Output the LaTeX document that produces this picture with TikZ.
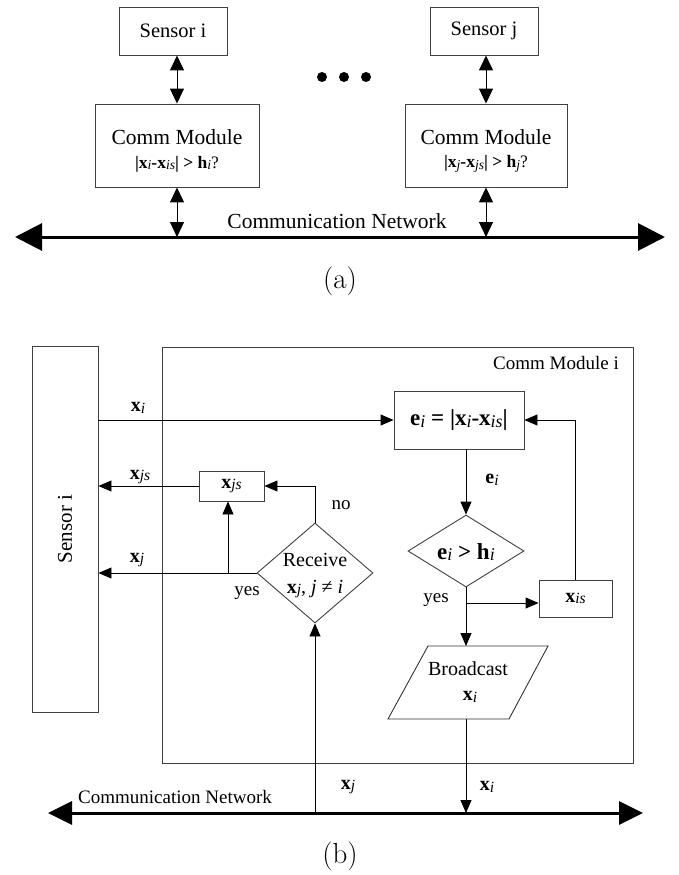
\documentclass[tikz,border=0pt]{standalone}
\usepackage{fontspec}
\newfontfamily\tnr{Liberation Serif}
\usetikzlibrary{arrows.meta,shapes.geometric}
\newcommand\bv[2]{\textbf{#1}\raisebox{-0.08em}{\scalebox{0.78}{\itshape\mdseries #2}}}
\begin{document}
\begin{tikzpicture}[x=1pt,y=-1pt,
  font=\tnr\fontsize{19}{21}\selectfont,
  box/.style={draw=black!75, line width=0.9pt, inner sep=0pt},
  arr/.style={-{Triangle[length=13pt,width=11pt]}, line width=0.9pt},
  darr/.style={{Triangle[length=15pt,width=14pt]}-{Triangle[length=15pt,width=14pt]}, line width=1pt},
  neta/.style={{Triangle[length=27pt,width=27pt]}-{Triangle[length=27pt,width=27pt]}, line width=3pt},
  netb/.style={{Triangle[length=24pt,width=23pt]}-{Triangle[length=24pt,width=23pt]}, line width=3pt},
  lbl/.style={inner sep=0pt},
  captxt/.style={font=\fontsize{29}{31}\selectfont, inner sep=0pt}]
\useasboundingbox (0,0) rectangle (679,875);

% ---------------- panel (a) ----------------
\node[box, minimum width=108pt, minimum height=48pt, font=\tnr\fontsize{20.5}{22}\selectfont] (sensI) at (173,31) {Sensor i};
\node[box, minimum width=108pt, minimum height=48pt, font=\tnr\fontsize{20.5}{22}\selectfont] (sensJ) at (484,31) {Sensor j};
\node[box, minimum width=164pt, minimum height=83pt] (commI) at (177,145.5) {};
\node[box, minimum width=162pt, minimum height=83pt] (commJ) at (486,145.5) {};
\node[lbl] (commIt) at (177,137) {\fontsize{21.5}{23}\selectfont Comm Module};
\node[lbl] (commIf) at (177,164) {\fontsize{17.5}{19}\selectfont\textbf{|}\bv{x}{i}\textbf{-}\bv{x}{is}\textbf{|} \textbf{>} \bv{h}{i}?};
\node[lbl] (commJt) at (486,137) {\fontsize{21.5}{23}\selectfont Comm Module};
\node[lbl] (commJf) at (486,164) {\fontsize{17.5}{19}\selectfont\textbf{|}\bv{x}{j}\textbf{-}\bv{x}{js}\textbf{|} \textbf{>} \bv{h}{j}?};
\fill (322,77) circle (5) (344,77) circle (5) (366,77) circle (5);
\coordinate (netAL) at (15,237);
\coordinate (netAR) at (665,237);
\draw[neta] (netAL) -- (netAR);
\node[lbl] (netAt) at (337,221) {\fontsize{21.5}{23}\selectfont Communication Network};
\draw[darr] (commI.north |- sensI.south) -- (commI.north);
\draw[darr] (commJ.north |- sensJ.south) -- (commJ.north);
\draw[darr] (commI.south) -- (commI.south |- netAL);
\draw[darr] (commJ.south) -- (commJ.south |- netAL);
\node[captxt] (capA) at (340,281) {(a)};

% ---------------- panel (b) ----------------
\node[box, minimum width=66pt, minimum height=366pt] (sensB) at (65,529) {};
\node[lbl, rotate=90] (sensBt) at (65,529) {\fontsize{21}{23}\selectfont Sensor i};
\node[box, minimum width=471pt, minimum height=416pt] (commB) at (397.5,555) {};
\node[lbl, anchor=east] (commBt) at (619,363) {Comm Module i};

\node[box, minimum width=130pt, minimum height=58pt] (ebox) at (459,420)
  {\fontsize{23}{25}\selectfont\bv{e}{i} \textbf{= |}\bv{x}{i}\textbf{-}\bv{x}{is}\textbf{|}};
\node[box, diamond, minimum width=116pt, minimum height=72pt] (d1) at (466,551) {};
\node[lbl] (d1t) at (466,552) {\fontsize{23}{25}\selectfont\bv{e}{i} \textbf{>} \bv{h}{i}};
\node[box, minimum width=73pt, minimum height=37pt] (xis) at (575.5,598.5) {\fontsize{20}{22}\selectfont\bv{x}{is}};

\coordinate (pTL) at (428,646);
\coordinate (pTR) at (548,646);
\coordinate (pBR) at (509,719);
\coordinate (pBL) at (388,719);
\draw[draw=black!80, line width=0.9pt] (pTL) -- (pTR) -- (pBR) -- (pBL) -- cycle;
\coordinate (pTop) at (466,646);
\coordinate (pBot) at (466,719);
\node[lbl] (bct) at (468,669) {\fontsize{20}{22}\selectfont Broadcast};
\node[lbl] (bcx) at (470,697) {\fontsize{20}{22}\selectfont\bv{x}{i}};

\node[box, diamond, minimum width=116pt, minimum height=100pt] (d2) at (315,573) {};
\node[lbl] (d2a) at (315,560) {\fontsize{20}{22}\selectfont Receive};
\node[lbl] (d2b) at (315,589) {\fontsize{20}{22}\selectfont\bv{x}{j}, \textit{j} ≠ \textit{i}};
\node[box, minimum width=65pt, minimum height=30pt] (xjs) at (231.5,486) {\fontsize{20}{22}\selectfont\bv{x}{js}};

\coordinate (netBL) at (48,813);
\coordinate (netBR) at (643,813);
\draw[netb] (netBL) -- (netBR);
\node[lbl, anchor=west] (netBt) at (78,797) {Communication Network};

% connectors
\draw[arr] (sensB.east |- ebox.west) -- (ebox.west);
\node[lbl] (lxi) at (138,408) {\fontsize{20}{22}\selectfont\bv{x}{i}};
\draw[arr] (d1.north |- ebox.south) -- (d1.north);
\node[lbl] (lei) at (492,480) {\fontsize{20}{22}\selectfont\bv{e}{i}};
\draw[arr] (d1.south) -- (pTop);
\coordinate (br1) at (466,603);
\draw[arr] (br1) -- (br1 -| xis.west);
\node[lbl] (lyes1) at (436,600) {yes};
\draw[arr] (xis.north) -- (xis.north |- ebox.east) -- (ebox.east);
\draw[arr] (pBot) -- (pBot |- netBL);
\node[lbl] (lxi2) at (487,787) {\fontsize{20}{22}\selectfont\bv{x}{i}};
\draw[arr] (d2.south |- netBL) -- (d2.south);
\node[lbl] (lxj2) at (348,787) {\fontsize{20}{22}\selectfont\bv{x}{j}};
\draw[arr] (d2.west) -- (d2.west -| sensB.east);
\node[lbl] (lxj) at (137,560) {\fontsize{20}{22}\selectfont\bv{x}{j}};
\coordinate (br2) at (228,573);
\draw[arr] (br2) -- (br2 |- xjs.south);
\node[lbl] (lyes2) at (247,593) {yes};
\draw[arr] (d2.north) -- (d2.north |- xjs.east) -- (xjs.east);
\node[lbl] (lno) at (341,505) {no};
\draw[arr] (xjs.west) -- (xjs.west -| sensB.east);
\node[lbl] (lxjs) at (140,477) {\fontsize{20}{22}\selectfont\bv{x}{js}};

\node[captxt] (capB) at (340,856) {(b)};
\end{tikzpicture}
\end{document}
